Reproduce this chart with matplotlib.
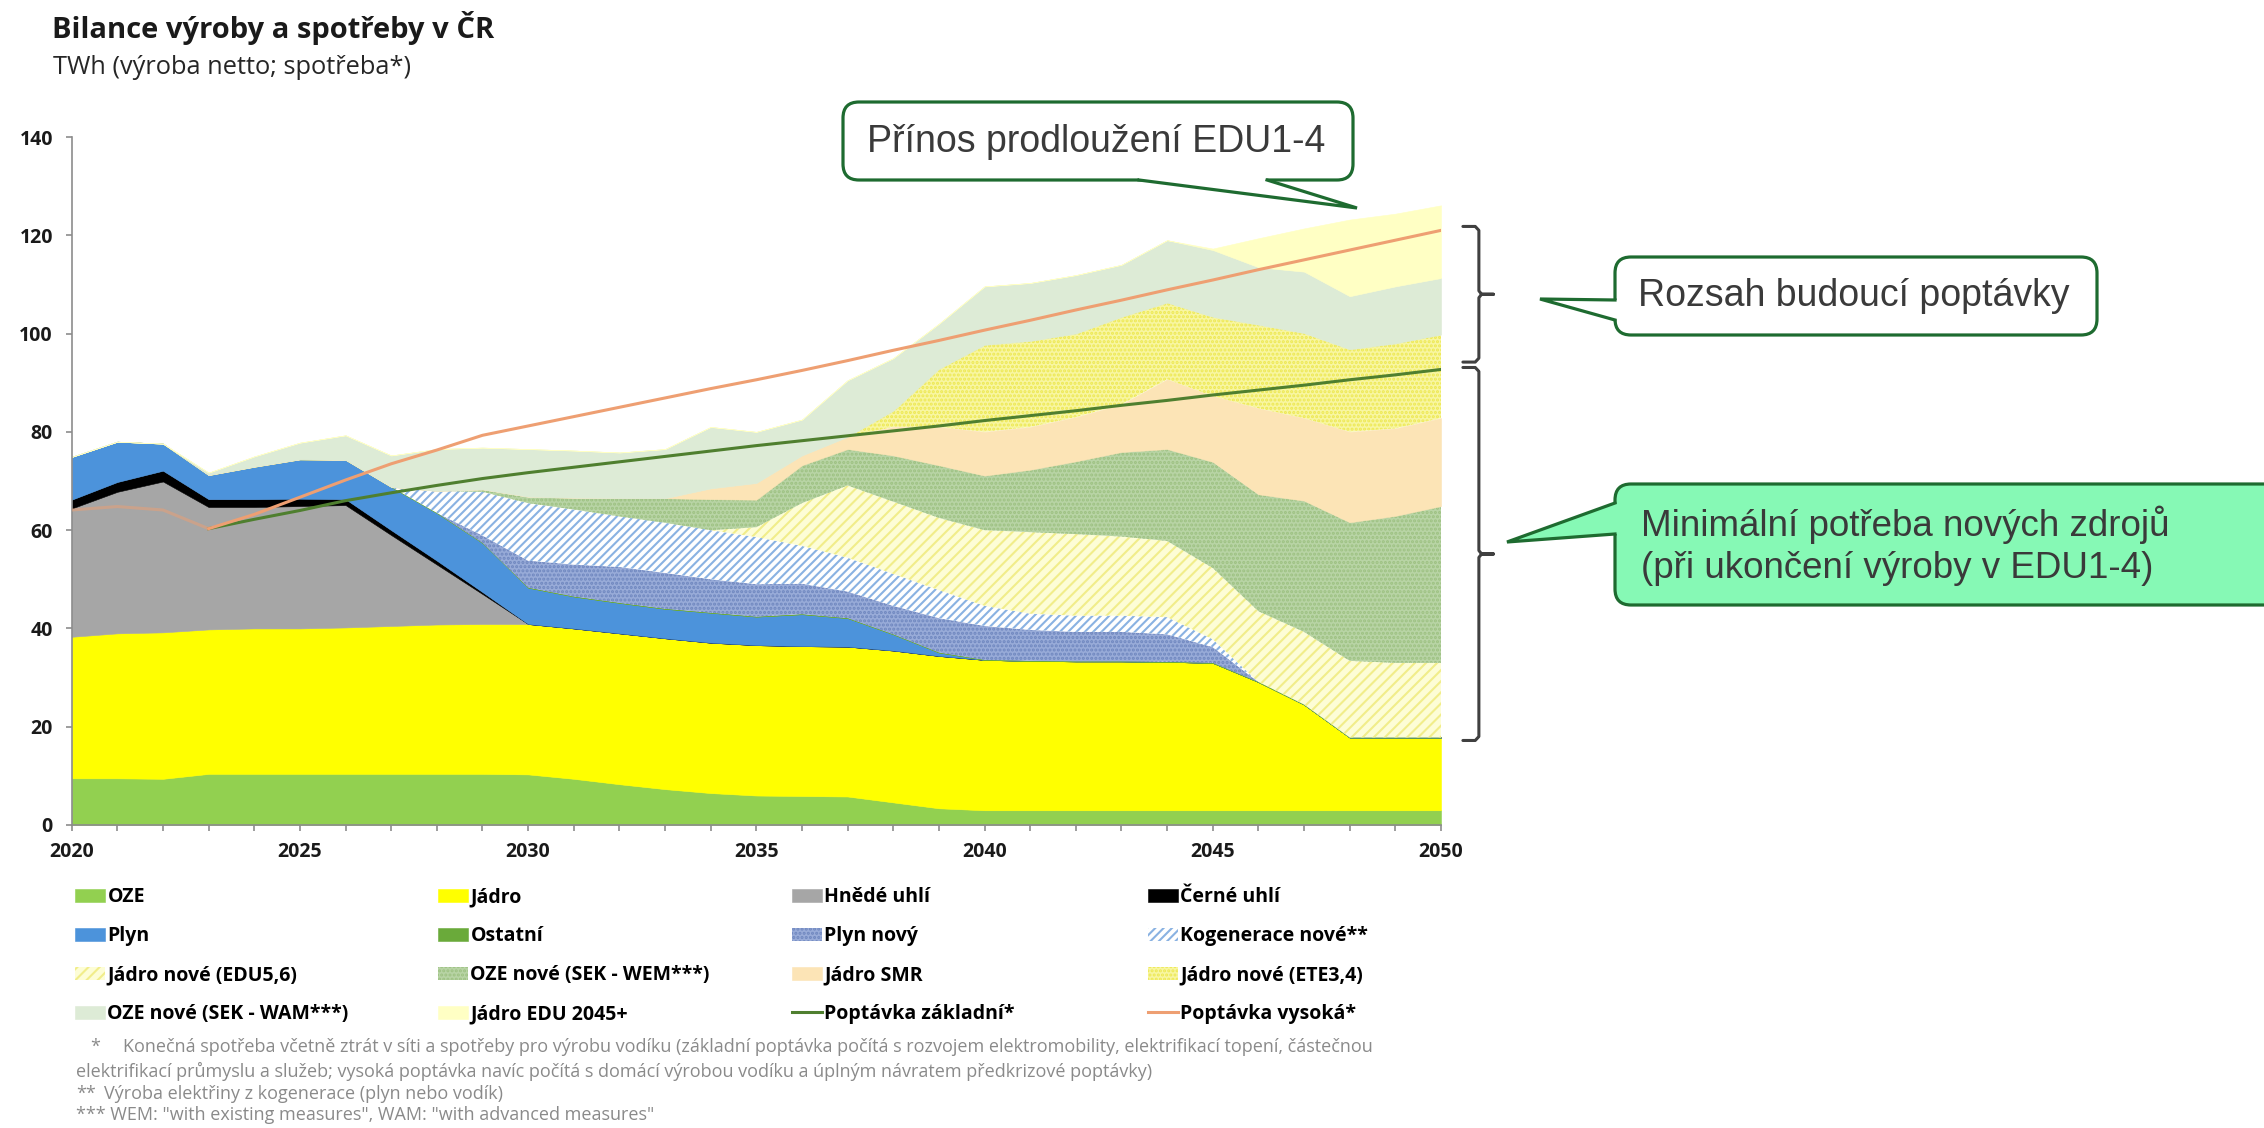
import numpy as np
import matplotlib.pyplot as plt
from matplotlib.patches import FancyBboxPatch, Polygon
from matplotlib.lines import Line2D
from matplotlib.transforms import Affine2D

plt.rcParams['font.family'] = ['Open Sans', 'DejaVu Sans']
plt.rcParams['hatch.linewidth'] = 1.5

W, H = 2264, 1128

# %%
# Data (TWh)
years = np.arange(2020, 2051)

oze = [9.5, 9.5, 9.4, 10.4, 10.4, 10.4, 10.4, 10.4, 10.4, 10.4, 10.3,
       9.4, 8.3, 7.3, 6.5, 6.0, 5.9, 5.8, 4.6, 3.4, 3.0,
       3.0, 3.0, 3.0, 3.0, 3.0, 3.0, 3.0, 3.0, 3.0, 3.0]
jadro = [28.8, 29.5, 29.8, 29.4, 29.6, 29.6, 29.8, 30.1, 30.4, 30.5, 30.6,
         30.6, 30.7, 30.7, 30.6, 30.6, 30.5, 30.5, 30.9, 31.0, 30.6,
         30.4, 30.3, 30.3, 30.2, 30.0, 26.1, 21.5, 14.8, 14.8, 14.8]
hnede_uhli = [26.1, 28.8, 30.7, 24.9, 24.7, 24.9, 24.9, 18.5, 12.2, 6.1] + [0] * 21
cerne_uhli = [1.8, 2.0, 2.2, 1.6, 1.6, 1.5, 1.2, 1.0, 0.8, 0.4] + [0] * 21
plyn = [8.7, 8.2, 5.5, 4.9, 6.6, 8.0, 8.0, 8.8, 9.7, 10.0, 7.4,
        6.5, 6.2, 6.0, 6.1, 5.8, 6.5, 5.8, 3.3, 0.7, 0] + [0] * 10
ostatni = [0] * 31
plyn_novy = [0] * 9 + [1.5, 5.5, 6.5, 7.3, 7.3, 6.8, 6.6, 6.2, 5.4, 5.8, 7.0,
                       6.9, 6.3, 6.0, 6.0, 5.6, 3.2, 0, 0, 0, 0, 0]
kogenerace = [0] * 8 + [4.5, 8.9, 11.7, 11.2, 10.3, 10.2, 10.0, 9.6, 7.7, 6.9,
                        6.5, 5.7, 4.1, 3.3, 3.3, 3.3, 3.5, 1.6, 0, 0, 0, 0, 0]
jadro_edu56 = [0] * 15 + [2.0, 8.7, 14.7, 14.7, 14.7, 15.4, 16.6, 16.6, 16.1,
                          15.5, 14.5, 14.4, 14.8, 15.6, 15.2, 15.2]
oze_wem = [0] * 9 + [0.5, 1.3, 2.4, 3.7, 5.0, 6.3, 5.6, 7.7, 7.4, 9.4, 10.7,
                     11.1, 12.7, 14.8, 17.2, 18.7, 21.6, 23.8, 26.7, 28.2, 29.9, 31.9]
jadro_smr = [0] * 14 + [2.2, 3.4, 2.0, 2.5, 5.8, 7.8, 8.9, 8.7, 9.0, 9.7,
                        14.2, 13.4, 17.5, 16.8, 18.4, 17.8, 17.9]
jadro_ete34 = [0] * 18 + [3.3, 11.8, 17.7, 17.5, 17.0, 17.8, 15.6, 16.1,
                          17.0, 17.3, 16.8, 17.3, 17.0]
oze_wam = [0, 0, 0, 0.5, 2.1, 3.4, 5.0, 6.4, 8.5, 8.5, 9.7,
           9.6, 9.3, 10.0, 12.5, 10.4, 7.3, 11.5, 10.7, 9.2, 11.9,
           11.8, 11.9, 10.6, 12.7, 13.6, 11.7, 12.5, 10.8, 11.6, 11.5]
jadro_edu2045 = [0] * 25 + [0.3, 5.9, 8.8, 15.6, 14.8, 14.8]

nan = np.nan
poptavka_zakladni = [nan, nan, nan, 60.3, 62.2, 64.0, 66.0, 67.6, 69.1, 70.5, 71.7,
                     72.8, 73.9, 75.0, 76.1, 77.2, 78.2, 79.2, 80.2, 81.2, 82.3,
                     83.3, 84.3, 85.4, 86.4, 87.5, 88.5, 89.5, 90.6, 91.6, 92.7]
poptavka_vysoka = [64.1, 64.8, 64.1, 60.3, 63.2, 66.7, 70.2, 73.5, 76.3, 79.3, 81.2,
                   83.1, 85.0, 86.9, 88.8, 90.6, 92.5, 94.5, 96.6, 98.6, 100.7,
                   102.7, 104.8, 106.8, 108.9, 110.9, 113.0, 115.0, 117.0, 119.0, 121.0]

# stack order, bottom to top: (label, values, face, hatch, hatch colour)
layers = [
    ("OZE", oze, "#92D050", None, None),
    ("Jádro", jadro, "#FFFF00", None, None),
    ("Hnědé uhlí", hnede_uhli, "#A6A6A6", None, None),
    ("Černé uhlí", cerne_uhli, "#000000", None, None),
    ("Plyn", plyn, "#4C93DB", None, None),
    ("Ostatní", ostatni, "#6AAA3A", None, None),
    ("Plyn nový", plyn_novy, "#98ABD8", "....", "#6F87BF"),
    ("Kogenerace nové**", kogenerace, "#FFFFFF", "////", "#8AB2E2"),
    ("Jádro nové (EDU5,6)", jadro_edu56, "#FDFDD6", "///", "#F1ED8A"),
    ("OZE nové (SEK - WEM***)", oze_wem, "#B8D4A5", "....", "#9DC182"),
    ("Jádro SMR", jadro_smr, "#FCE4B6", None, None),
    ("Jádro nové (ETE3,4)", jadro_ete34, "#F8F6A2", "....", "#EDE852"),
    ("OZE nové (SEK - WAM***)", oze_wam, "#DDEBD6", None, None),
    ("Jádro EDU 2045+", jadro_edu2045, "#FFFFC4", None, None),
]

# %%
fig = plt.figure(figsize=(W / 100, H / 100), dpi=100)
ax = fig.add_axes([71.7 / W, 1 - 825 / H, (1441 - 71.7) / W, (825 - 137) / H])

handles = {}
bottom = np.zeros(len(years))
for label, vals, face, hatch, hc in layers:
    top = bottom + np.asarray(vals, dtype=float)
    if hatch is None:
        coll = ax.fill_between(years, bottom, top, facecolor=face, edgecolor=face,
                               linewidth=0.4, zorder=1)
    else:
        coll = ax.fill_between(years, bottom, top, facecolor=face, edgecolor=hc,
                               hatch=hatch, linewidth=0, zorder=1)
    handles[label] = coll
    bottom = top

green_c = "#4F7F2F"
orange_c = "#EE9F72"
ax.plot(years, poptavka_zakladni, color=green_c, lw=2.2, zorder=3)
ax.plot(years[:4], poptavka_vysoka[:4], color=orange_c, lw=2.2, alpha=0.5, zorder=3)
ax.plot(years[3:], poptavka_vysoka[3:], color=orange_c, lw=2.2, zorder=3)
handles["Poptávka základní*"] = Line2D([], [], color=green_c, lw=2.2)
handles["Poptávka vysoká*"] = Line2D([], [], color=orange_c, lw=2.2)

ax.set_xlim(2020, 2050)
ax.set_ylim(0, 140)
ax.set_xticks(range(2020, 2051, 5))
ax.set_xticks(years, minor=True)
ax.set_yticks(range(0, 141, 20))
for s in ("top", "right"):
    ax.spines[s].set_visible(False)
for s in ("left", "bottom"):
    ax.spines[s].set_color("#8C8C8C")
    ax.spines[s].set_linewidth(1.2)
ax.tick_params(which="both", direction="out", color="#8C8C8C", length=4.5, width=1.2)
ax.tick_params(axis="y", pad=9)
ax.tick_params(axis="x", pad=8)
for lab in ax.get_xticklabels() + ax.get_yticklabels():
    lab.set_fontweight("bold")
    lab.set_fontsize(14)
    lab.set_color("#1A1A1A")

# braces to the right of 2050
nuclear_top = oze[-1] + jadro[-1]


def brace(y1, y0, x=2050.83, hook=0.35, spike=0.32):
    ym = (y1 + y0) / 2
    xs = [x - hook, x - 0.08, x, x, x + 0.06, x + spike, x + 0.06, x, x, x - 0.08, x - hook]
    ys = [y1, y1, y1 - 0.8, ym + 0.7, ym, ym, ym, ym - 0.7, y0 + 0.8, y0, y0]
    ax.plot(xs, ys, color="#404040", lw=2.2, clip_on=False, zorder=5,
            solid_joinstyle="round", solid_capstyle="round")


brace(poptavka_vysoka[-1] + 0.8, poptavka_zakladni[-1] + 1.5)
brace(poptavka_zakladni[-1] + 0.4, nuclear_top - 0.6)

# %%
# Titles
fig.text(52 / W, 1 - 28 / H, "Bilance výroby a spotřeby v ČR", fontsize=21,
         fontweight="bold", color="#1A1A1A", va="center", ha="left")
fig.text(53 / W, 1 - 68 / H, "TWh (výroba netto; spotřeba*)", fontsize=18.3,
         color="#262626", va="center", ha="left")

# Callouts, drawn in pixel coordinates (origin top-left)
pix = Affine2D().scale(1 / W, -1 / H).translate(0, 1) + fig.transFigure
edge_c = "#1E6B30"
text_c = "#3A3A3A"
cfont = ["Liberation Sans", "DejaVu Sans"]


def callout(x0, y0, x1, y1, tail, face, text, tx, ty, size, ha="center"):
    box = FancyBboxPatch((x0, y0), x1 - x0, y1 - y0,
                         boxstyle="round,pad=0,rounding_size=16",
                         facecolor=face, edgecolor=edge_c, lw=2.3,
                         transform=pix, zorder=10)
    fig.add_artist(box)
    (bx1, by1), (tx_, ty_), (bx2, by2) = tail
    # inward offset so the fill covers the box border at the tail base
    if abs(by1 - by2) < 1:
        inner = [(bx2, by2 - 4), (bx1, by1 - 4)]
    else:
        inner = [(bx2 + 4, by2), (bx1 + 4, by1)]
    fig.add_artist(Polygon([(bx1, by1), (tx_, ty_), (bx2, by2)] + inner, closed=True,
                           facecolor=face, edgecolor="none", transform=pix, zorder=11))
    fig.add_artist(Line2D([bx1, tx_, bx2], [by1, ty_, by2], color=edge_c, lw=2.3,
                          transform=pix, zorder=12, solid_joinstyle="miter"))
    fig.text(tx, ty, text, transform=pix, fontsize=size, color=text_c, family=cfont,
             ha=ha, va="center", zorder=13, linespacing=1.25)


callout(843, 102, 1353, 180, [(1139, 180), (1357, 208), (1267, 180)], "white",
        "Přínos prodloužení EDU1-4", 1096, 142, 27)
callout(1615, 257, 2097, 335, [(1615, 300), (1540, 299), (1615, 320)], "white",
        "Rozsah budoucí poptávky", 1854, 296, 27)
callout(1615, 484, 2300, 605, [(1615, 503), (1507, 542), (1615, 534)], "#86F9B5",
        "Minimální potřeba nových zdrojů\n(při ukončení výroby v EDU1-4)", 1641, 546, 26.5,
        ha="left")

# %%
# Legend, four columns
columns = [
    ["OZE", "Plyn", "Jádro nové (EDU5,6)", "OZE nové (SEK - WAM***)"],
    ["Jádro", "Ostatní", "OZE nové (SEK - WEM***)", "Jádro EDU 2045+"],
    ["Hnědé uhlí", "Plyn nový", "Jádro SMR", "Poptávka základní*"],
    ["Černé uhlí", "Kogenerace nové**", "Jádro nové (ETE3,4)", "Poptávka vysoká*"],
]
col_x = [75, 438, 792, 1148]
for cx, labels in zip(col_x, columns):
    fig.legend([handles[l] for l in labels], labels, loc="upper left",
               bbox_to_anchor=(cx / W, 1 - 887 / H), frameon=False,
               prop={"weight": "bold", "size": 14, "family": ["Open Sans", "DejaVu Sans"]},
               handlelength=1.55, handleheight=0.68, handletextpad=0.12,
               labelspacing=0.98, borderpad=0, borderaxespad=0)

# Footnotes
foot_c = "#8A8A8A"
fs = 13
fig.text(90 / W, 1 - 1047 / H, "*", fontsize=fs, color=foot_c, va="center")
fig.text(123 / W, 1 - 1047 / H,
         "Konečná spotřeba včetně ztrát v síti a spotřeby pro výrobu vodíku (základní poptávka "
         "počítá s rozvojem elektromobility, elektrifikací topení, částečnou",
         fontsize=fs, color=foot_c, va="center")
fig.text(76 / W, 1 - 1071 / H,
         "elektrifikací průmyslu a služeb; vysoká poptávka navíc počítá s domácí výrobou vodíku "
         "a úplným návratem předkrizové poptávky)",
         fontsize=fs, color=foot_c, va="center")
fig.text(76 / W, 1 - 1094 / H, "**", fontsize=fs, color=foot_c, va="center")
fig.text(104 / W, 1 - 1094 / H, "Výroba elektřiny z kogenerace (plyn nebo vodík)",
         fontsize=fs, color=foot_c, va="center")
fig.text(76 / W, 1 - 1115 / H, '*** WEM: "with existing measures", WAM: "with advanced measures"',
         fontsize=fs, color=foot_c, va="center")

fig.savefig("out.png", dpi=100)
